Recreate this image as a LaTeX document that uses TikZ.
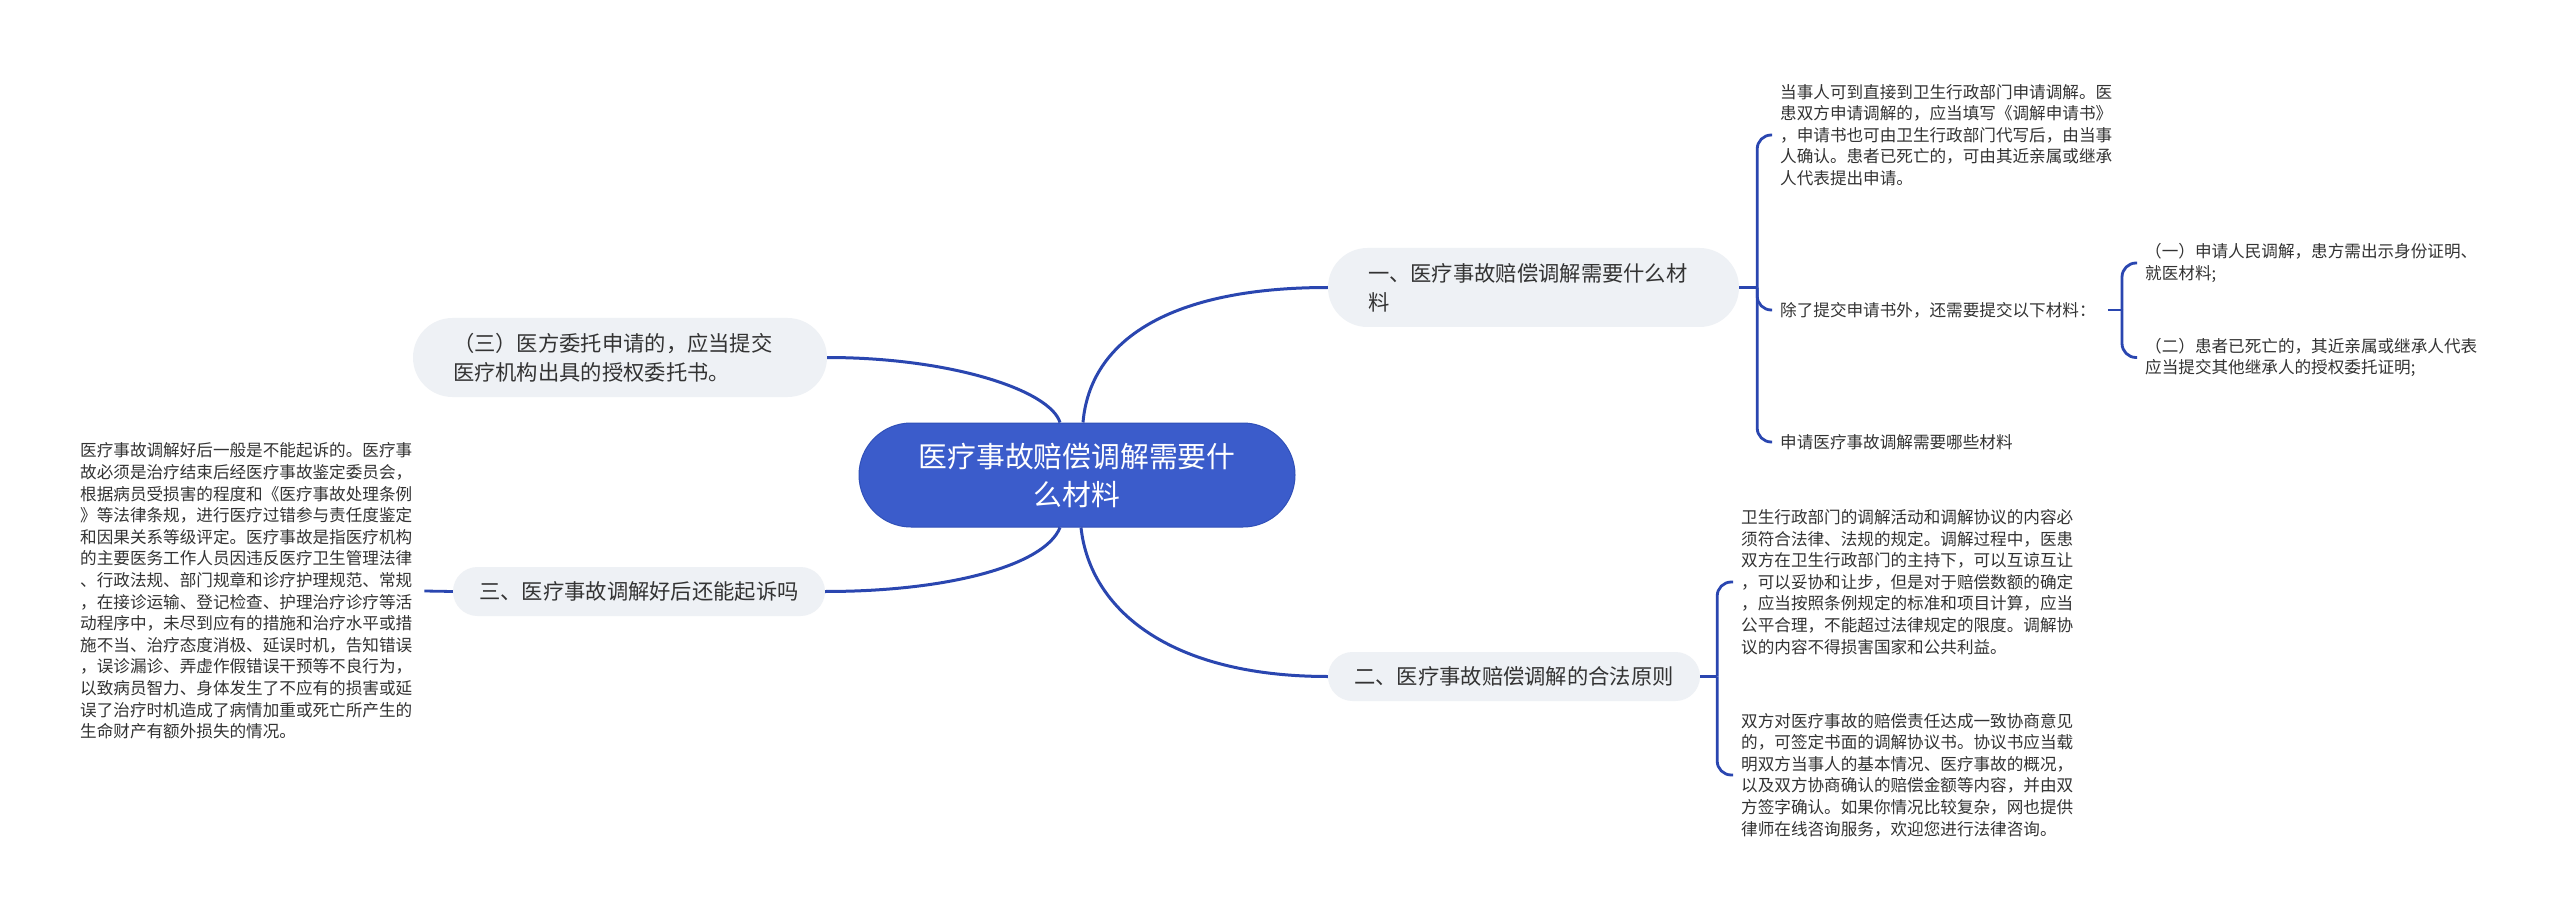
\documentclass[tikz,border=0pt]{standalone}
\usepackage{fontspec}
\setmainfont{Noto Sans CJK SC}
\definecolor{rootblue}{HTML}{3B5CCB}
\definecolor{rootborder}{HTML}{3050B8}
\definecolor{topicgray}{HTML}{EEF1F5}
\definecolor{textgray}{HTML}{333333}
\definecolor{linkblue}{HTML}{2A46B0}
\begin{document}
\begin{tikzpicture}[x=1pt,y=-1pt,
  root/.style={rectangle, rounded corners=52pt, fill=rootblue, draw=rootborder, line width=1pt,
    minimum width=436pt, minimum height=104pt, inner sep=0pt, text=white, align=center,
    font=\fontsize{28.8}{38}\selectfont},
  topic/.style={rectangle, fill=topicgray, inner sep=0pt, text=textgray,
    font=\fontsize{21.3}{29}\selectfont},
  tall/.style={topic, minimum height=79pt, rounded corners=39.5pt, align=left},
  flat/.style={topic, minimum height=49pt, rounded corners=24.5pt, align=center},
  leaf/.style={inner sep=0pt, anchor=west, align=left, text=textgray,
    font=\fontsize{16.6}{21.6}\selectfont},
  link/.style={draw=linkblue, line width=3pt},
  brace/.style={draw=linkblue, line width=2.8pt, rounded corners=14pt}
]
\useasboundingbox[fill=white] (0,0) rectangle (2560,917);

% nodes
\node[root] (root) at (1077,475) {医疗事故赔偿调解需要什\\么材料};

\node[tall, minimum width=411pt, text width=331pt] (n1) at (1533.5,287.5)
  {一、医疗事故赔偿调解需要什么材\\料};
\node[tall, minimum width=414pt, text width=334pt] (n3) at (620,357.5)
  {（三）医方委托申请的，应当提交\\医疗机构出具的授权委托书。};
\node[flat, minimum width=372pt] (n4) at (639,591.5) {三、医疗事故调解好后还能起诉吗};
\node[flat, minimum width=372pt] (n2) at (1514,676.5) {二、医疗事故赔偿调解的合法原则};

\node[leaf] (A) at (1780,135) {当事人可到直接到卫生行政部门申请调解。医\\患双方申请调解的，应当填写《调解申请书》\\，申请书也可由卫生行政部门代写后，由当事\\人确认。患者已死亡的，可由其近亲属或继承\\人代表提出申请。};
\node[leaf] (B) at (1780,310) {除了提交申请书外，还需要提交以下材料：};
\node[leaf] (C) at (1780,442) {申请医疗事故调解需要哪些材料};
\node[leaf] (D) at (2145,263) {（一）申请人民调解，患方需出示身份证明、\\就医材料;};
\node[leaf] (E) at (2145,357.5) {（二）患者已死亡的，其近亲属或继承人代表\\应当提交其他继承人的授权委托证明;};
\node[leaf] (I) at (1741,582) {卫生行政部门的调解活动和调解协议的内容必\\须符合法律、法规的规定。调解过程中，医患\\双方在卫生行政部门的主持下，可以互谅互让\\，可以妥协和让步，但是对于赔偿数额的确定\\，应当按照条例规定的标准和项目计算，应当\\公平合理，不能超过法律规定的限度。调解协\\议的内容不得损害国家和公共利益。};
\node[leaf] (J) at (1741,775) {双方对医疗事故的赔偿责任达成一致协商意见\\的，可签定书面的调解协议书。协议书应当载\\明双方当事人的基本情况、医疗事故的概况，\\以及双方协商确认的赔偿金额等内容，并由双\\方签字确认。如果你情况比较复杂，网也提供\\律师在线咨询服务，欢迎您进行法律咨询。};
\node[leaf] (K) at (80,591) {医疗事故调解好后一般是不能起诉的。医疗事\\故必须是治疗结束后经医疗事故鉴定委员会，\\根据病员受损害的程度和《医疗事故处理条例\\》等法律条规，进行医疗过错参与责任度鉴定\\和因果关系等级评定。医疗事故是指医疗机构\\的主要医务工作人员因违反医疗卫生管理法律\\、行政法规、部门规章和诊疗护理规范、常规\\，在接诊运输、登记检查、护理治疗诊疗等活\\动程序中，未尽到应有的措施和治疗水平或措\\施不当、治疗态度消极、延误时机，告知错误\\，误诊漏诊、弄虚作假错误干预等不良行为，\\以致病员智力、身体发生了不应有的损害或延\\误了治疗时机造成了病情加重或死亡所产生的\\生命财产有额外损失的情况。};

% main connectors
\draw[link] ([xshift=6pt]root.north) .. controls (1090,340) and (1170,287.5) .. (n1.west);
\draw[link] ([xshift=-17pt]root.north) .. controls (1050,390) and (950,357.5) .. (n3.east);
\draw[link] ([xshift=-17pt]root.south) .. controls (1045,565) and (950,591.5) .. (n4.east);
\draw[link] ([xshift=4pt]root.south) .. controls (1090,610) and (1170,676.5) .. (n2.west);

% bracket of n1
\coordinate (j1) at ([xshift=18pt]n1.east);
\draw[brace] (n1.east) -- (j1);
\draw[brace] (j1) |- ([xshift=-8pt]A.west);
\draw[brace] (j1) |- ([xshift=-8pt]B.west);
\draw[brace] (j1) |- ([xshift=-8pt]C.west);

% bracket of B
\coordinate (j2) at (2122,310);
\draw[brace] ([xshift=12pt]B.east) -- (j2);
\draw[brace] (j2) |- ([xshift=-8pt]D.west);
\draw[brace] (j2) |- ([xshift=-8pt]E.west);

% bracket of n2
\coordinate (j3) at ([xshift=17pt]n2.east);
\draw[brace] (n2.east) -- (j3);
\draw[brace] (j3) |- ([xshift=-8pt]I.west);
\draw[brace] (j3) |- ([xshift=-8pt]J.west);

% link of n4
\draw[brace] (n4.west) -- ([xshift=12pt]K.east);
\end{tikzpicture}
\end{document}
